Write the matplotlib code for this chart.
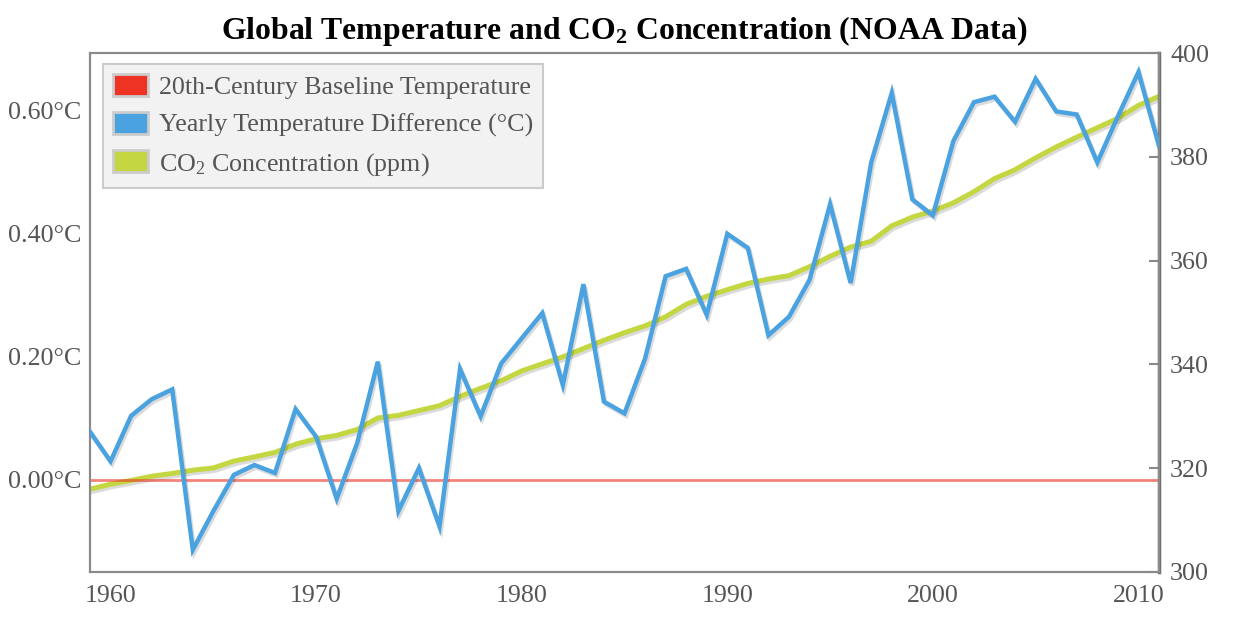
"""Global temperature anomaly and CO2 concentration (NOAA)"""
import matplotlib
matplotlib.use("Agg")
import matplotlib.pyplot as plt
import matplotlib.patheffects as pe
from matplotlib.patches import Patch
from matplotlib.ticker import FuncFormatter

years = list(range(1959, 2012))

# Yearly temperature difference from 20th-century average (deg C)
temp_diff = [0.078, 0.030, 0.104, 0.131, 0.147, -0.114, -0.051, 0.008, 0.024, 0.011,
             0.115, 0.070, -0.031, 0.060, 0.192, -0.051, 0.019, -0.076, 0.180, 0.103,
             0.189, 0.230, 0.271, 0.154, 0.318, 0.127, 0.108, 0.197, 0.331, 0.343,
             0.268, 0.400, 0.377, 0.235, 0.265, 0.325, 0.448, 0.320, 0.516, 0.629,
             0.456, 0.430, 0.551, 0.614, 0.623, 0.582, 0.652, 0.599, 0.594, 0.516,
             0.591, 0.663, 0.543]

# CO2 concentration (ppm)
co2_ppm = [315.97, 316.91, 317.64, 318.45, 318.99, 319.62, 320.04, 321.37, 322.18, 323.05,
           324.62, 325.68, 326.32, 327.46, 329.68, 330.18, 331.11, 332.04, 333.83, 335.40,
           336.84, 338.75, 340.11, 341.45, 343.05, 344.65, 346.12, 347.42, 349.19, 351.57,
           353.12, 354.39, 355.61, 356.45, 357.10, 358.83, 360.82, 362.61, 363.73, 366.70,
           368.38, 369.55, 371.14, 373.28, 375.80, 377.52, 379.80, 381.90, 383.79, 385.60,
           387.43, 389.90, 391.65]

x_ticks = [1960, 1970, 1980, 1990, 2000, 2010]
temp_ticks = [0.0, 0.2, 0.4, 0.6]
co2_ticks = [300, 320, 340, 360, 380, 400]

RED = "#ee3224"
BLUE = "#4aa3e0"
GREEN = "#c4d742"
TEXT = "#555555"
SPINE = "#8a8a8a"
FS = 18.7

plt.rcParams["font.family"] = ["Liberation Serif", "DejaVu Serif"]
plt.rcParams["mathtext.fontset"] = "custom"
plt.rcParams["mathtext.rm"] = "Liberation Serif"
plt.rcParams["mathtext.it"] = "Liberation Serif:italic"
plt.rcParams["mathtext.bf"] = "Liberation Serif:bold"


def main():
    fig = plt.figure(figsize=(12.42, 6.28), dpi=100)
    ax = fig.add_axes([90 / 1242, 1 - 572 / 628, 1069 / 1242, 519 / 628])
    ax2 = ax.twinx()

    shadow = [pe.SimpleLineShadow(offset=(1.2, -1.8), shadow_color="k", alpha=0.14),
              pe.Normal()]

    ax.axhline(0, color=RED, alpha=0.6, lw=2, zorder=1)
    ax.plot(years, temp_diff, color=BLUE, lw=3.2, zorder=3,
            solid_joinstyle="miter", path_effects=shadow)
    ax2.plot(years, co2_ppm, color=GREEN, lw=3.6, zorder=2,
             path_effects=shadow)

    ax.set_xlim(1959, 2011)
    ax.set_ylim(-0.15, 0.694)
    ax2.set_ylim(300, 400)

    ax.set_xticks(x_ticks)
    ax.set_yticks(temp_ticks)
    ax.yaxis.set_major_formatter(FuncFormatter(lambda v, p: "%.2f°C" % v))
    ax2.set_yticks(co2_ticks)

    ax.tick_params(axis="x", length=0, pad=9, labelsize=FS, labelcolor=TEXT)
    ax.tick_params(axis="y", length=0, pad=6, labelsize=FS, labelcolor=TEXT)
    ax2.tick_params(axis="y", direction="in", length=7, width=1.5, color=SPINE,
                    pad=8, labelsize=FS, labelcolor=TEXT)

    for a in (ax, ax2):
        for side in a.spines.values():
            side.set_color(SPINE)
            side.set_linewidth(1.5)
    ax2.spines["right"].set_color("#707070")
    ax2.spines["right"].set_linewidth(2.5)

    # Put the temperature axis (and its line) above the CO2 one
    ax.set_zorder(ax2.get_zorder() + 1)
    ax.patch.set_visible(False)

    ax.set_title(r"Global Temperature and CO$_\mathbf{2}$ Concentration (NOAA Data)",
                 fontsize=22.9, fontweight="bold", pad=10)

    handles = [Patch(facecolor=RED, edgecolor="#cccccc", lw=2),
               Patch(facecolor=BLUE, edgecolor="#cccccc", lw=2),
               Patch(facecolor=GREEN, edgecolor="#cccccc", lw=2)]
    labels = ["20th-Century Baseline Temperature",
              "Yearly Temperature Difference (°C)",
              r"CO$_2$ Concentration (ppm)"]
    leg = ax.legend(handles, labels, loc="upper left",
                    bbox_to_anchor=(0.012, 0.979), borderaxespad=0,
                    fontsize=FS, frameon=True, fancybox=False,
                    facecolor="#f2f2f2", edgecolor="#cccccc", framealpha=1,
                    handlelength=1.35, handleheight=0.92, handletextpad=0.4,
                    labelspacing=0.5, borderpad=0.4)
    leg.get_frame().set_linewidth(1.5)
    for t in leg.get_texts():
        t.set_color(TEXT)

    fig.savefig("out.png", dpi=100)


if __name__ == "__main__":
    main()
